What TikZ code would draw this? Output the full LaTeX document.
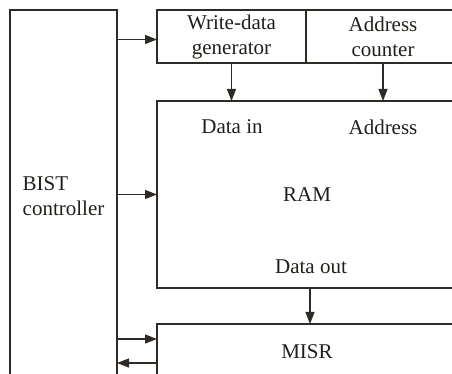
\documentclass[tikz,border=0pt]{standalone}
\usepackage{fontspec}
\setmainfont{Liberation Serif}
\usetikzlibrary{arrows.meta,positioning}
\usepackage{xcolor}
\definecolor{inkline}{HTML}{2E2A25}
\definecolor{inktext}{HTML}{221E1A}
\tikzset{blk/.style={draw=inkline, line width=1.2pt, outer sep=0pt, inner sep=0pt}}

\begin{document}
\begin{tikzpicture}[
  x=1pt, y=1pt,
  font=\fontsize{21pt}{25pt}\selectfont,
  text=inktext,
  box/.style={blk, align=center},
  lbl/.style={inner sep=0pt},
  arrow/.style={draw=inkline, line width=1.2pt, -{Triangle[length=12pt,width=9pt]}}
]
\useasboundingbox (0,0) rectangle (452,374);
\clip (0,0) rectangle (452,374);

\node[box, anchor=north west, minimum width=107pt, minimum height=372pt, align=left] (bist) at (10,364) {BIST\\controller};
\node[box, anchor=north west, minimum width=149pt, minimum height=53pt] (wdgen) at (157,364) {Write-data\\generator};
\node[box, right=0pt of wdgen, minimum width=154pt, minimum height=53pt] (addr) {Address\\counter};
\node[box, below right=38pt and 0pt of wdgen.south west, minimum width=300pt, minimum height=187pt] (ram) {RAM};
\node[box, below=36pt of ram, minimum width=300pt, minimum height=56pt] (misr) {MISR};

\node[lbl] (datain) at (232,247) {Data in};
\node[lbl] (addrin) at (383,247) {Address};
\node[lbl, above=14pt of ram.south, xshift=4pt] (dataout) {Data out};

\draw[arrow] ([yshift=-3pt]bist.east |- wdgen.west) -- ([yshift=-3pt]wdgen.west);
\draw[arrow] (wdgen.south) -- (wdgen.south |- ram.north);
\draw[arrow] (addr.south) -- (addr.south |- ram.north);
\draw[arrow] (bist.east |- ram.west) -- (ram.west);
\draw[arrow] ([xshift=3pt]ram.south) -- ([xshift=3pt]misr.north);
\draw[arrow] ([yshift=13pt]bist.east |- misr.west) -- ([yshift=13pt]misr.west);
\draw[arrow] ([yshift=-11pt]misr.west) -- ([yshift=-11pt]bist.east |- misr.west);
\end{tikzpicture}
\end{document}
